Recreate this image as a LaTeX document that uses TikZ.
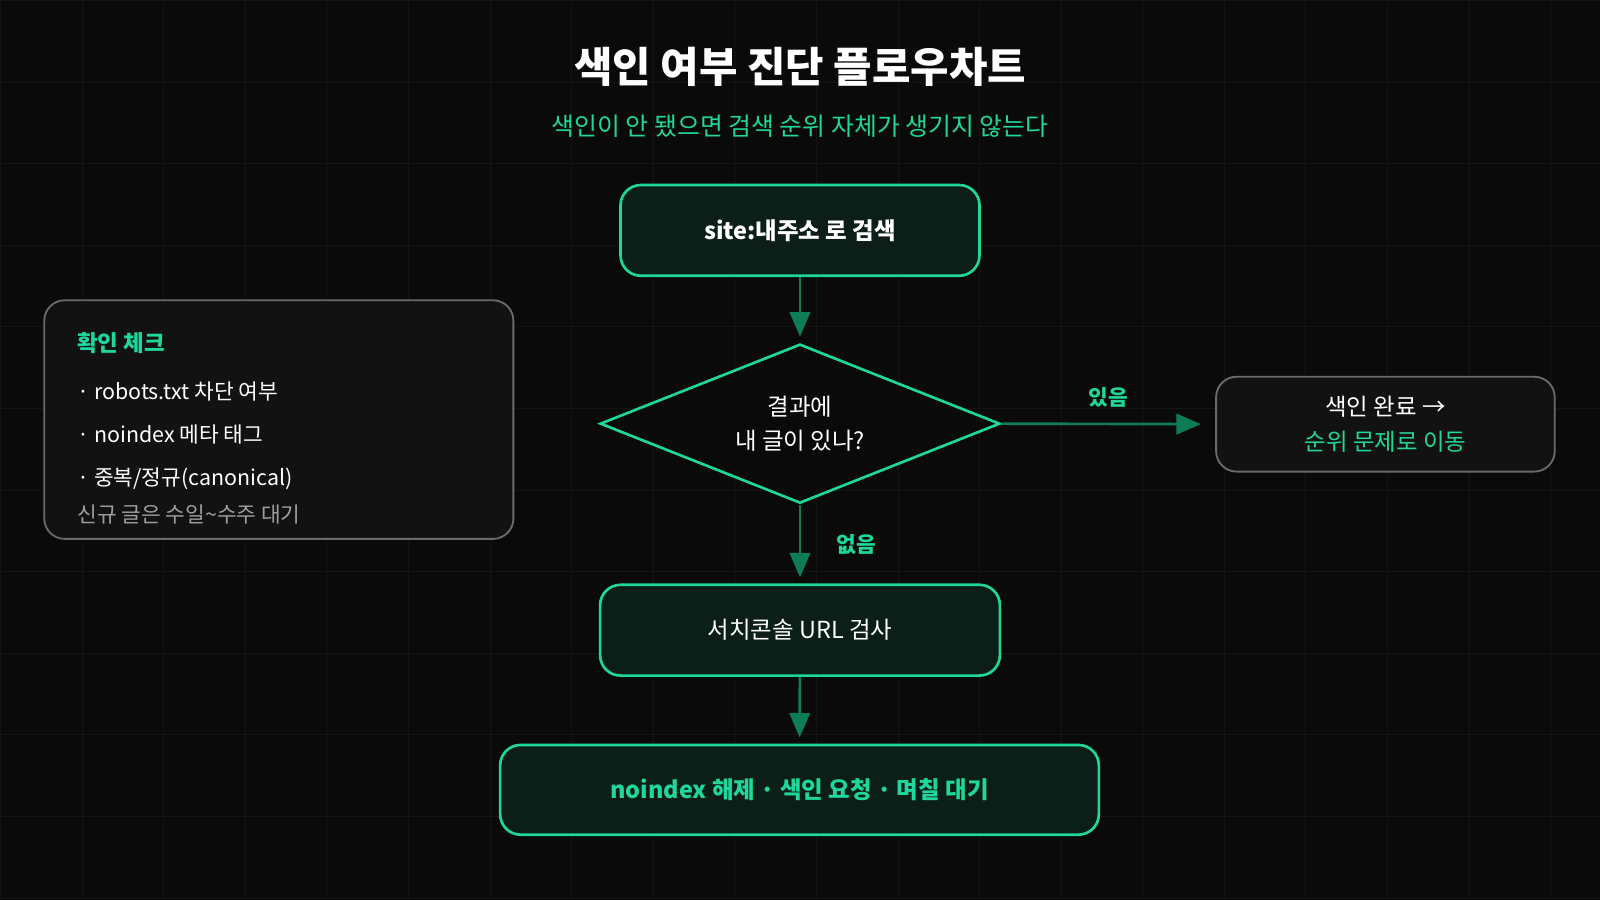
\documentclass[tikz,border=0pt]{standalone}
\usepackage{fontspec}
\setmainfont{Noto Sans CJK KR}
\usetikzlibrary{shapes.geometric,arrows.meta}
\definecolor{bg}{HTML}{0A0A0A}
\definecolor{grn}{HTML}{1FD69C}
\definecolor{dgrn}{HTML}{0E7C57}
\definecolor{bfill}{HTML}{0B1F18}
\definecolor{sfill}{HTML}{121212}
\definecolor{sline}{HTML}{6A6A6A}
\begin{document}
\begin{tikzpicture}[x=0.5pt,y=-0.5pt,
font=\fontsize{10.5}{13}\selectfont,
b/.style={
draw=grn,
line width=1.3pt,
fill=bfill,
rounded corners=10pt,
text=white},
sb/.style={
draw=sline,
line width=0.9pt,
fill=sfill,
rounded corners=10pt},
lbl/.style={text=grn,font=\fontsize{10.5}{13}\selectfont\bfseries},
ar/.style={-{Triangle[length=12pt,width=10pt]},draw=dgrn,fill=dgrn,line width=1.3pt,shorten >=3pt},
it/.style={anchor=west,inner sep=0pt},
]
\fill[bg](0,0)rectangle(1568,882);
\foreach \i in {0,80,...,1560}{\draw[white!4!bg,line width=0.4pt](\i,0)--(\i,882);}
\foreach \j in {0,80,...,880}{\draw[white!4!bg,line width=0.4pt](0,\j)--(1568,\j);}
%Title
\node[text=white,font=\fontsize{20.5}{24}\selectfont\bfseries](title)at(784,65){색인 여부 진단 플로우차트};
\node[text=grn,font=\fontsize{12.2}{15}\selectfont](sub)at(784,123){색인이 안 됐으면 검색 순위 자체가 생기지 않는다};
%Flow
\node[b,minimum width=176pt,minimum height=44.5pt,font=\fontsize{11.5}{14}\selectfont\bfseries](search)at(784,225.5){site:내주소 로 검색};
\node[diamond,draw=grn,line width=1.3pt,fill=bg,text=white,aspect=2.5,minimum width=196pt,minimum height=78pt,inner sep=0pt,align=center,font=\fontsize{11.5}{17}\selectfont](result)at(784,415){결과에\\내 글이 있나?};
\node[b,minimum width=196pt,minimum height=44.5pt,font=\fontsize{11.5}{14}\selectfont](gsc)at(784,617.5){서치콘솔 URL 검사};
\node[b,text=grn,minimum width=293.5pt,minimum height=44pt,font=\fontsize{11.5}{14}\selectfont\bfseries](fix)at(783.5,774){noindex 해제 · 색인 요청 · 며칠 대기};
\node[sb,minimum width=166pt,minimum height=46.5pt,align=center,text=white,font=\fontsize{11.5}{17}\selectfont](done)at(1358,415.5){색인 완료 →\\\textcolor{grn}{순위 문제로 이동}};
\draw[ar,shorten >=7pt](result.east)--(done.west)node[lbl,pos=0.5,above=4pt]{있음};
\draw[ar](search)--(result);
\draw[ar](result.south)--(gsc.north)node[lbl,pos=0.5,right=14pt]{없음};
\draw[ar](gsc)--(fix);
%Check list
\node[sb,minimum width=230pt,minimum height=117pt](check)at(273,411){};
\node[it,lbl,font=\fontsize{11}{14}\selectfont\bfseries](ct)at(75,336){확인 체크};
\node[it,text=white](c1)at(75,383){· robots.txt 차단 여부};
\node[it,text=white](c2)at(75,426){· noindex 메타 태그};
\node[it,text=white](c3)at(75,469){· 중복/정규(canonical)};
\node[it,text=white!62!black](c4)at(75,504){신규 글은 수일\textasciitilde 수주 대기};
\end{tikzpicture}
\end{document}
